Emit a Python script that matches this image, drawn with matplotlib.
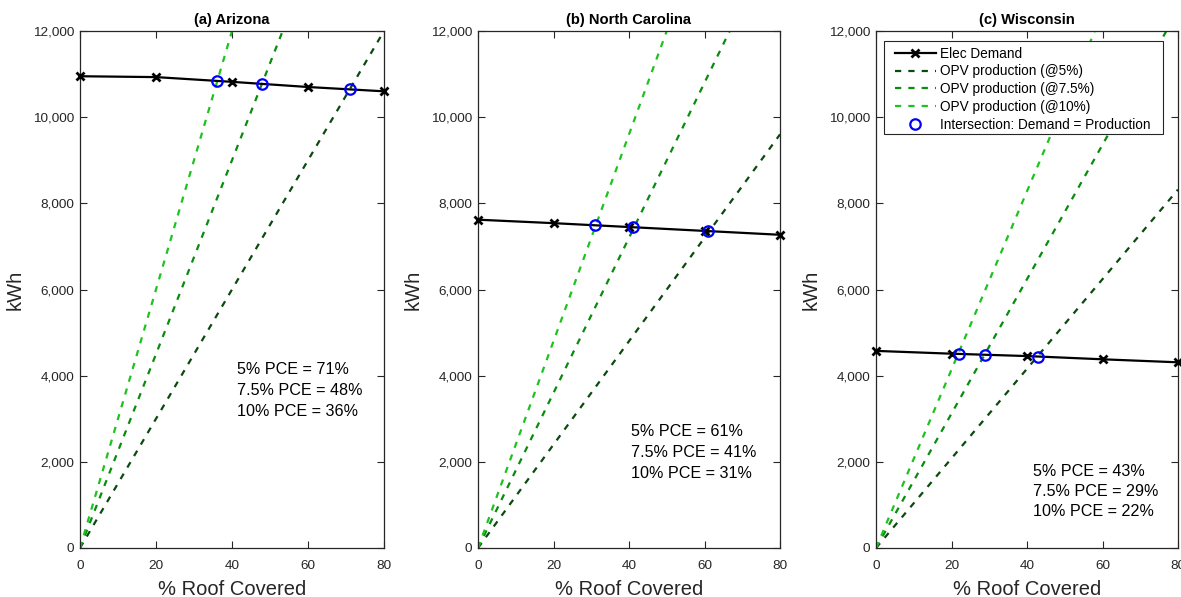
import numpy as np
import matplotlib
matplotlib.use("Agg")
import matplotlib.pyplot as plt
from matplotlib.patches import Rectangle
from matplotlib.ticker import FuncFormatter, MultipleLocator

plt.rcParams['font.family'] = ['Liberation Sans', 'DejaVu Sans']

# Roof coverage (%) at which household demand was evaluated
roof_pct = [0, 20, 40, 60, 80]

# Annual electricity demand (kWh) per state
demand_az = [10950, 10930, 10820, 10700, 10600]
demand_nc = [7620, 7540, 7450, 7360, 7270]
demand_wi = [4575, 4510, 4455, 4380, 4310]

# OPV production per % of roof covered (kWh / %) at 5%, 7.5% and 10% PCE
prod_slope_az = [150, 225, 300]
prod_slope_nc = [120, 180, 240]
prod_slope_wi = [104, 156, 207]

# Roof coverage (%) where demand equals production, at 5%, 7.5%, 10% PCE
cross_az = [71, 48, 36]
cross_nc = [61, 41, 31]
cross_wi = [43, 29, 22]

pce_labels = ["5%", "7.5%", "10%"]
titles = ["(a) Arizona", "(b) North Carolina", "(c) Wisconsin"]

panels = [
    (demand_az, prod_slope_az, cross_az),
    (demand_nc, prod_slope_nc, cross_nc),
    (demand_wi, prod_slope_wi, cross_wi),
]

opv_colors = ["#0b4a0e", "#088c0c", "#1ec21e"]
text_color = "#262626"

fig = plt.figure(figsize=(11.81, 5.97), dpi=100)
W, H = 1181, 597
lefts = [80, 478, 876]
widths = [304, 302, 302]
top_px, bot_px = 31, 548
ax_h = bot_px - top_px

# pixel rows (from top of figure) of the first PCE annotation line
text_x_frac = [0.516, 0.506, 0.52]
text_top_px = [370, 432, 471]
text_step_px = 20.5

xline = np.array([0, 80])

for i, (demand, slopes, crosses) in enumerate(panels):
    ax = fig.add_axes([lefts[i] / W, (H - bot_px) / H, widths[i] / W,
                       ax_h / H])

    ax.plot(roof_pct, demand, color="black", lw=1.6, marker="x", ms=5.5,
            mew=2.0, label="Elec Demand", zorder=3, clip_on=False)
    for k, s in enumerate(slopes):
        ax.plot(xline, s * xline, color=opv_colors[k], lw=1.6,
                linestyle=(0, (2.8, 3.2)),
                label=f"OPV production (@{pce_labels[k]})", zorder=2)
    cy = np.interp(crosses, roof_pct, demand)
    ax.plot(crosses, cy, linestyle="none", marker="o", ms=7.5, mfc="none",
            mec="#0000ff", mew=1.6,
            label="Intersection: Demand = Production", zorder=4)

    ax.set_xlim(0, 80)
    ax.set_ylim(0, 12000)
    ax.xaxis.set_major_locator(MultipleLocator(20))
    ax.yaxis.set_major_locator(MultipleLocator(2000))
    ax.yaxis.set_major_formatter(FuncFormatter(lambda v, p: f"{int(v):,}"))
    ax.tick_params(direction="in", top=True, right=True, length=5,
                   width=0.8, labelsize=9.7, colors="#262626",
                   labelcolor=text_color)
    ax.tick_params(axis="y", pad=4)
    ax.tick_params(axis="x", pad=8.5)
    for sp in ax.spines.values():
        sp.set_color("#262626")
        sp.set_linewidth(0.9)

    ax.set_title(titles[i], fontsize=10.6, fontweight="bold", pad=5)
    ax.set_xlabel("% Roof Covered", fontsize=14.5, color=text_color,
                  labelpad=6)
    ax.set_ylabel("kWh", fontsize=14.5, color=text_color, labelpad=6)

    for k in range(3):
        py = text_top_px[i] + k * text_step_px
        ax.text(text_x_frac[i], (bot_px - py) / ax_h,
                f"{pce_labels[k]} PCE = {crosses[k]}%",
                transform=ax.transAxes, fontsize=11.6, color="black",
                va="center", ha="left")

    if i == 2:
        # legend frame drawn as its own box, entries placed inside it
        box_l, box_r, box_t, box_b = 884, 1163, 41.5, 134
        ax.add_patch(Rectangle(((box_l - lefts[i]) / widths[i],
                                (bot_px - box_b) / ax_h),
                               (box_r - box_l) / widths[i],
                               (box_b - box_t) / ax_h,
                               transform=ax.transAxes, facecolor="white",
                               edgecolor="#262626", lw=0.8, zorder=5))
        leg = ax.legend(loc="upper left",
                        bbox_to_anchor=((895 - lefts[i]) / widths[i],
                                        (bot_px - 46.5) / ax_h),
                        fontsize=9.8, handlelength=3.0, handletextpad=0.3,
                        labelspacing=0.28, borderpad=0, borderaxespad=0,
                        frameon=False)
        leg.set_zorder(6)

fig.savefig("out.png", dpi=100)
